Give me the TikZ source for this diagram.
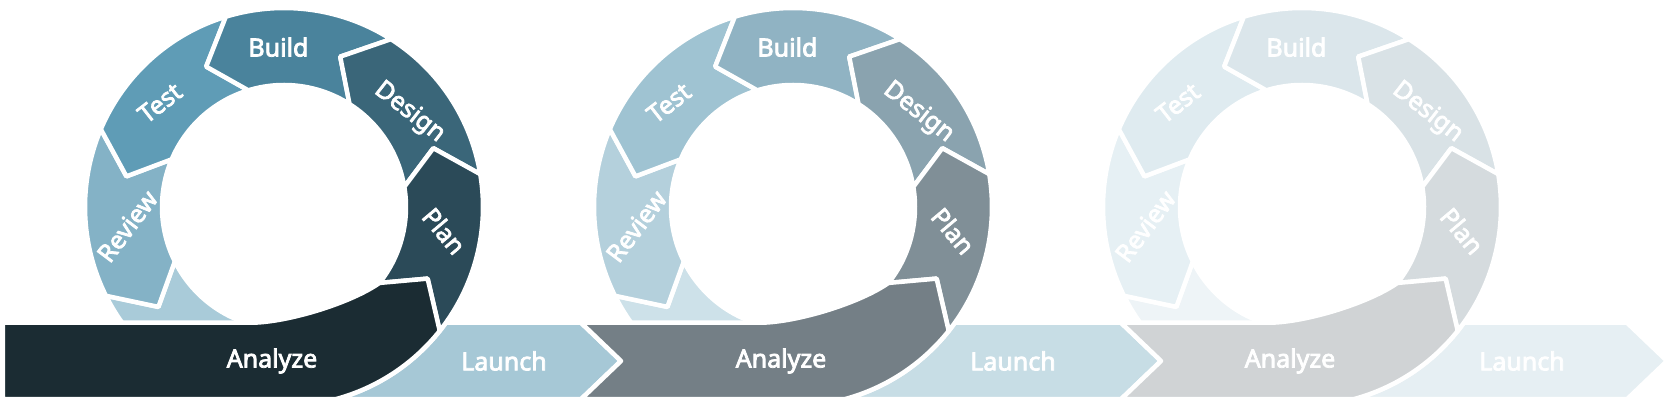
\documentclass[tikz,border=0pt]{standalone}
\usepackage{fontspec}
\setmainfont{Noto Sans}
\newfontfamily\labfont{Noto Sans}[FakeBold=3]
\usetikzlibrary{calc}
\definecolor{aA}{HTML}{1B2C33}\definecolor{aP}{HTML}{2B4A58}\definecolor{aD}{HTML}{3A6679}
\definecolor{aB}{HTML}{4A839C}\definecolor{aT}{HTML}{5F9CB6}\definecolor{aR}{HTML}{84B2C6}
\definecolor{aL}{HTML}{A9CBD9}\definecolor{aN}{HTML}{A6C8D6}
\definecolor{bA}{HTML}{747F86}\definecolor{bP}{HTML}{808F97}\definecolor{bD}{HTML}{8AA3AF}
\definecolor{bB}{HTML}{90B3C3}\definecolor{bT}{HTML}{9FC3D2}\definecolor{bR}{HTML}{B4D0DC}
\definecolor{bL}{HTML}{CDE1E9}\definecolor{bN}{HTML}{C7DDE5}
\definecolor{cA}{HTML}{D0D3D5}\definecolor{cP}{HTML}{D5DBDE}\definecolor{cD}{HTML}{D9E2E6}
\definecolor{cB}{HTML}{DBE6EB}\definecolor{cT}{HTML}{DFEBF0}\definecolor{cR}{HTML}{E6F0F4}
\definecolor{cL}{HTML}{EEF4F7}\definecolor{cN}{HTML}{E6EFF3}
% ring segment: #1 centre, #2 tail angle, #3 head angle, #4 colour
\newcommand\ringseg[4]{%
  \path[seg,fill=#4] ($(#1)+(#2:122pt)$) -- ($(#1)+({#2+12}:160.5pt)$) -- ($(#1)+(#2:199pt)$)
    arc[start angle=#2,end angle=#3,radius=199pt]
    -- ($(#1)+({#3+12}:160.5pt)$) -- ($(#1)+(#3:122pt)$)
    arc[start angle=#3,end angle=#2,radius=122pt] -- cycle;}
% whole ring: #1 centre, #2 colour prefix
\newcommand\ringall[2]{%
  \begin{scope}
    \clip ($(#1)+(-260pt,-113.5pt)$) rectangle ($(#1)+(120pt,210pt)$);
    \path[seg,fill=#2L] ($(#1)+(206.5:122pt)$) -- ($(#1)+(218.5:160.5pt)$) -- ($(#1)+(206.5:199pt)$)
      arc[start angle=206.5,end angle=275,radius=199pt]
      -- ($(#1)+(275:122pt)$) arc[start angle=275,end angle=206.5,radius=122pt] -- cycle;
  \end{scope}
  \ringseg{#1}{157}{206.5}{#2R}
  \ringseg{#1}{107}{157}{#2T}
  \ringseg{#1}{57.5}{107}{#2B}
  \ringseg{#1}{9.5}{57.5}{#2D}
  \ringseg{#1}{-38.5}{9.5}{#2P}
}
\newcommand\ringlabels[2]{%
  \node[lab,rotate=0]   (#2build)  at ($(#1)+(92:160pt)$) {Build};
  \node[lab,rotate=-38] (#2design) at ($(#1)+(37:157pt)$) {Design};
  \node[lab,rotate=-50] (#2plan)   at ($(#1)+(-8.5:162pt)$) {Plan};
  \node[lab,rotate=38]  (#2test)   at ($(#1)+(140:162pt)$) {Test};
  \node[lab,rotate=53]  (#2review) at ($(#1)+(187:158pt)$) {Review};
  \node[lab] (#2analyze) at ($(#1)+(-12pt,-154pt)$) {Analyze};
  \node[lab] (#2launch)  at ($(#1)+(220pt,-154pt)$) {Launch};
}
% analyze band top edge and head (relative to centre #1)
\newcommand\anahead[1]{%
  ($(#1)+(-32pt,-115.75pt)$) .. controls ($(#1)+(5pt,-115pt)$) and ($(#1)+(66.8pt,-96pt)$)
  .. ($(#1)+(-38.5:122pt)$) -- ($(#1)+(-26.5:160.5pt)$) -- ($(#1)+(-38.5:199pt)$)
  arc[start angle=-38.5,end angle=-75,radius=199pt]}
% launch arrow: #1 centre, #2 right edge x, #3 colour
\newcommand\launcharrow[3]{%
  \path[seg,fill=#3] ($(#1)+(-75:199pt)$) arc[start angle=-75,end angle=-35.57,radius=199pt]
    -- (#2,86.25) -- ({#2+40},48) -- (#2,9.75) -- cycle;}
\begin{document}
\begin{tikzpicture}[x=1pt,y=1pt,
  seg/.style={draw=white,line width=4.5pt,line join=round},
  lab/.style={text=white,font=\labfont\fontsize{25}{30}\selectfont,inner sep=0pt}]
\useasboundingbox[fill=white] (0,0) rectangle (1674,409);
\coordinate (C1) at (284,202);
\coordinate (C2) at (793,202);
\coordinate (C3) at (1302,202);
% launch arrows
\launcharrow{C1}{581}{aN}
\launcharrow{C2}{1121}{bN}
\launcharrow{C3}{1627}{cN}
% rings
\ringall{C1}{a}
\ringall{C2}{b}
\ringall{C3}{c}
% analyze bands
\path[seg,fill=aA] (2.75,86.25) -- \anahead{C1} -- (2.75,9.75) -- cycle;
\path[seg,fill=bA] (581,86.25) -- \anahead{C2} -- (581,9.75) -- (621,48) -- cycle;
\path[seg,fill=cA] (1121,86.25) -- \anahead{C3} -- (1121,9.75) -- (1161,48) -- cycle;
% labels
\ringlabels{C1}{a}
\ringlabels{C2}{b}
\ringlabels{C3}{c}
\end{tikzpicture}
\end{document}
